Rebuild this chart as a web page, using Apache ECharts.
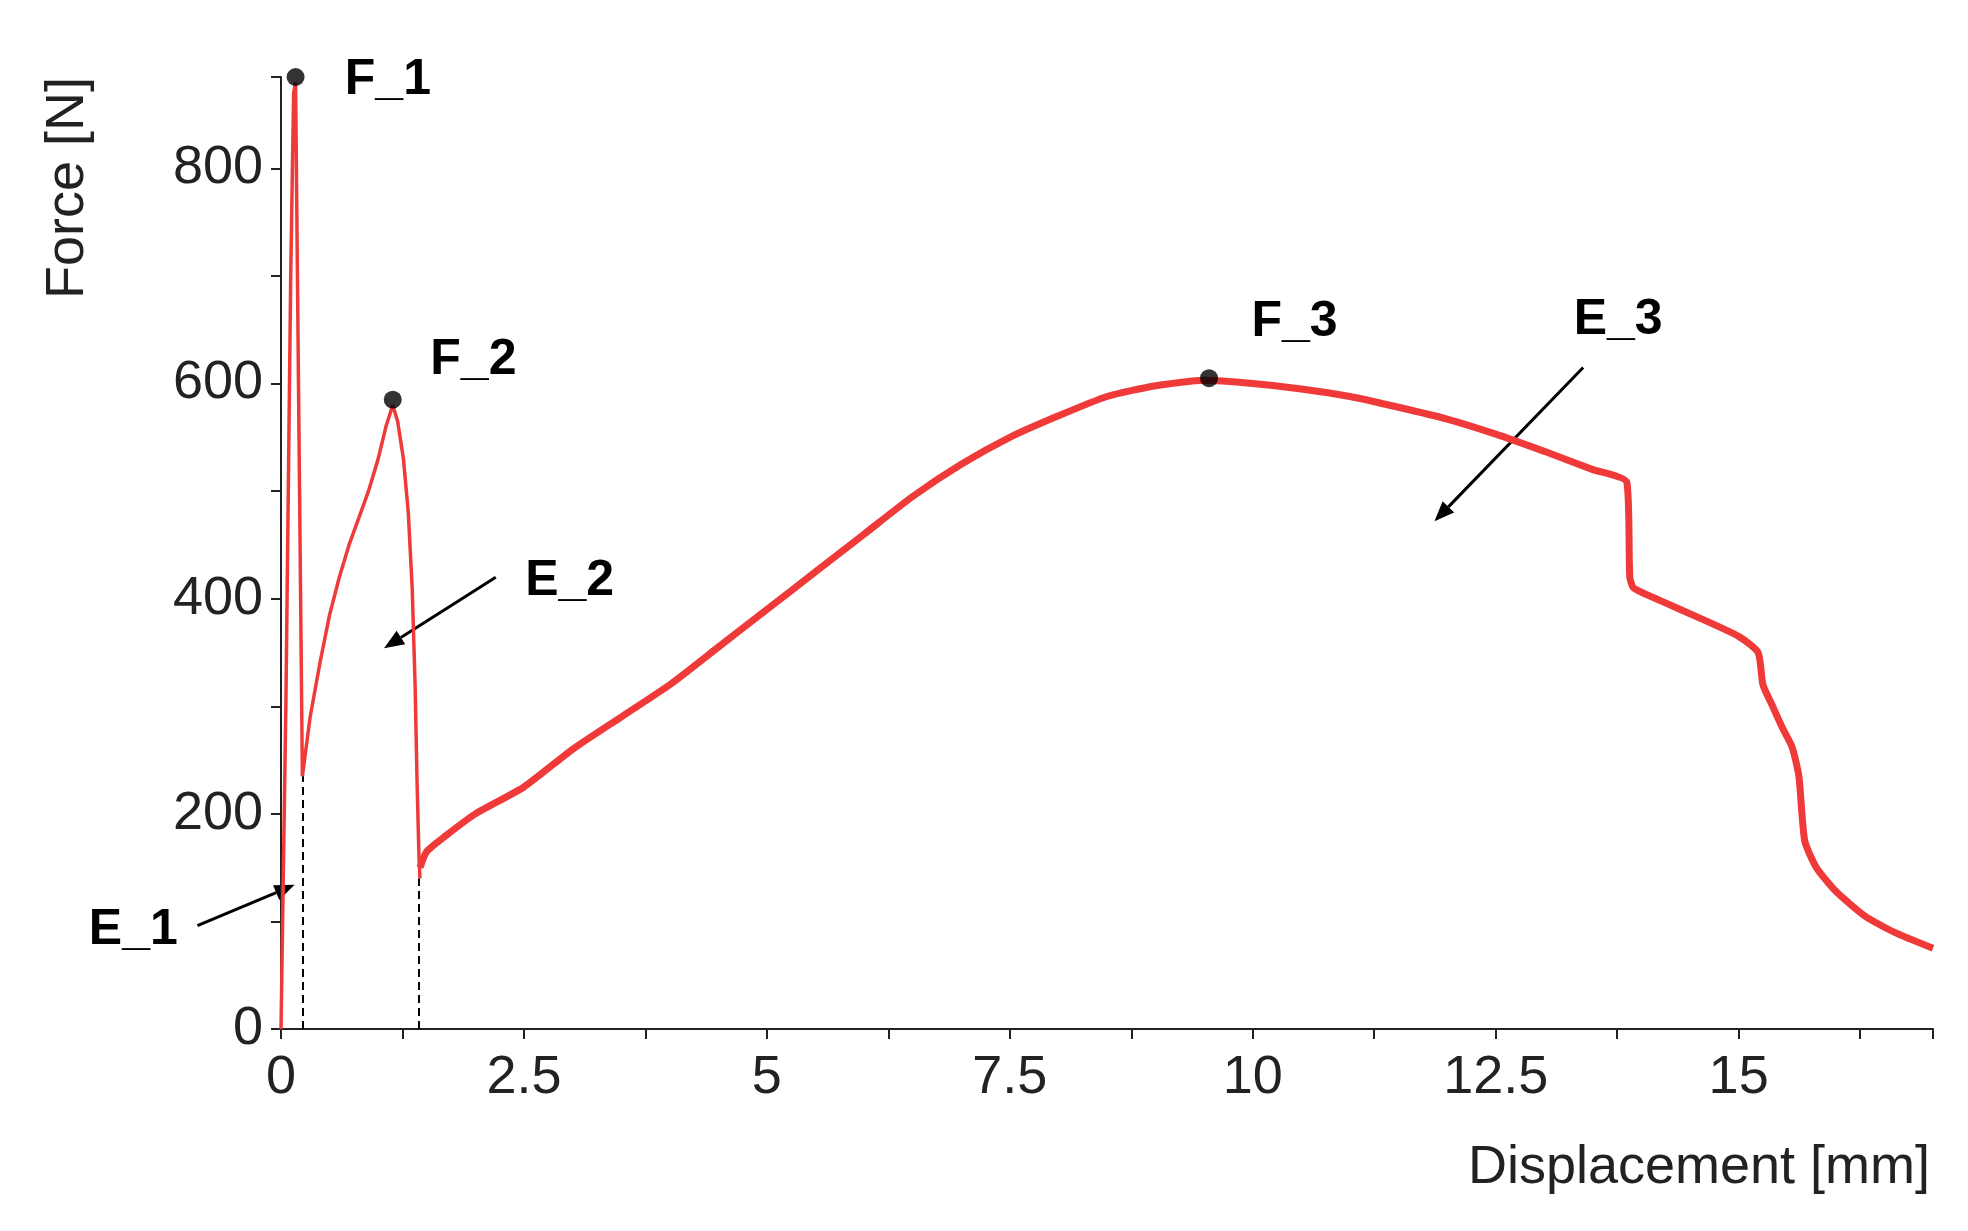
<!DOCTYPE html>
<html><head><meta charset="utf-8">
<script src="https://cdn.jsdelivr.net/npm/echarts@6/dist/echarts.min.js"></script>
<style>html,body{margin:0;background:#fff}#c{width:1968px;height:1231px}</style>
</head><body><div id="c"></div>
<script>
const earlyX = [0, 0.05, 0.10, 0.13, 0.15, 0.18, 0.22, 0.3, 0.4, 0.5, 0.6, 0.7, 0.8, 0.9, 1.0, 1.08, 1.15, 1.2, 1.26, 1.31, 1.35, 1.38, 1.40, 1.42, 1.43];
const earlyY = [0, 300, 700, 870, 880, 600, 235, 290, 340, 385, 420, 450, 475, 500, 530, 560, 580, 565, 530, 480, 410, 320, 230, 160, 140];
const mainX = [1.43, 1.5, 1.7, 2.0, 2.5, 3.0, 3.5, 4.0, 4.5, 5.0, 5.5, 6.0, 6.5, 7.0, 7.5, 8.0, 8.5, 9.0, 9.5, 10.0, 10.5, 11.0, 11.5, 12.0, 12.5, 13.0, 13.5, 13.85, 13.88, 13.92, 14.2, 14.6, 15.0, 15.2, 15.25, 15.35, 15.45, 15.55, 15.62, 15.68, 15.8, 16.0, 16.3, 16.6, 17.0];
const mainY = [150, 165, 180, 200, 225, 260, 290, 320, 355, 390, 425, 460, 495, 525, 550, 570, 588, 598, 603, 600, 595, 588, 578, 567, 553, 537, 520, 508, 420, 410, 398, 382, 365, 350, 320, 300, 280, 262, 235, 175, 150, 128, 105, 90, 75];
const peaks = [[0.15, 885, 'F_1'], [1.15, 585, 'F_2'], [9.55, 605, 'F_3']];
const dashes = [[0.22, 235], [1.42, 140]];
const arrows = [[-0.86, 96, 0.14, 134], [2.21, 420, 1.06, 354], [13.4, 615, 11.87, 472]];
const notes = [['F_1', 1.1, 882], ['F_2', 1.98, 622], ['F_3', 10.43, 657], ['E_1', -1.52, 92], ['E_2', 2.97, 416], ['E_3', 13.76, 659]];
const xTitle = 'Displacement [mm]', yTitle = 'Force [N]';

const FONT = 'Liberation Sans';
const RED = '#f03a3a';
const chart = echarts.init(document.getElementById('c'));
const axisCommon = {
  axisLine: {show: true, onZero: false, lineStyle: {color: '#222', width: 2}},
  axisTick: {show: true, length: 10, lineStyle: {color: '#222', width: 2}},
  minorTick: {show: true, splitNumber: 2, length: 10, lineStyle: {color: '#222', width: 2}},
  splitLine: {show: false},
  axisLabel: {fontFamily: FONT, fontSize: 54, color: '#222', showMaxLabel: false}
};
chart.setOption({
  animation: false,
  grid: {left: 281, right: 35, top: 77, bottom: 202},
  xAxis: Object.assign({type: 'value', min: 0, max: 17, interval: 2.5}, axisCommon,
    {axisLabel: Object.assign({}, axisCommon.axisLabel, {margin: 22})}),
  yAxis: Object.assign({type: 'value', min: 0, max: 885, interval: 200}, axisCommon,
    {axisLabel: Object.assign({}, axisCommon.axisLabel, {margin: 18})}),
  series: [
    {type: 'line', data: earlyX.map((x, i) => [x, earlyY[i]]), showSymbol: false, lineStyle: {color: RED, width: 3.5}},
    {type: 'line', data: mainX.map((x, i) => [x, mainY[i]]), showSymbol: false, smooth: 0.2, lineStyle: {color: RED, width: 7}},
    {type: 'scatter', data: peaks.map(p => [p[0], p[1]]), symbolSize: 18, itemStyle: {color: '#000'}, z: 5},
    {type: 'line', data: [], showSymbol: false,
      markLine: {silent: true, symbol: ['none', 'none'], label: {show: false},
        lineStyle: {type: [8, 5], color: '#000', width: 2},
        data: dashes.map(d => [{coord: [d[0], 0]}, {coord: [d[0], d[1]]}])}}
  ]
});
function place() {
  const px = (x, y) => chart.convertToPixel({gridIndex: 0}, [x, y]);
  const g = notes.map(n => {
    const p = px(n[1], n[2]);
    return {type: 'text', x: p[0], y: p[1], style: {text: n[0], font: 'bold 50px ' + FONT, fill: '#000', align: 'center', verticalAlign: 'middle'}};
  });
  arrows.forEach(a => {
    const s = px(a[0], a[1]), e = px(a[2], a[3]);
    const ang = Math.atan2(e[1] - s[1], e[0] - s[0]);
    const L = 20, W = 8;
    const bx = e[0] - L * Math.cos(ang), by = e[1] - L * Math.sin(ang);
    g.push({type: 'line', shape: {x1: s[0], y1: s[1], x2: bx, y2: by}, style: {stroke: '#000', lineWidth: 3}});
    g.push({type: 'polygon', shape: {points: [[e[0], e[1]], [bx + W * Math.sin(ang), by - W * Math.cos(ang)], [bx - W * Math.sin(ang), by + W * Math.cos(ang)]]}, style: {fill: '#000'}});
  });
  g.push({type: 'text', x: 1930, y: 1168, style: {text: xTitle, font: '54px ' + FONT, fill: '#222', align: 'right', verticalAlign: 'middle'}});
  g.push({type: 'text', x: 68, y: 77, rotation: Math.PI / 2, style: {text: yTitle, font: '54px ' + FONT, fill: '#222', align: 'right', verticalAlign: 'middle'}});
  chart.setOption({graphic: g});
}
place();
</script></body></html>
